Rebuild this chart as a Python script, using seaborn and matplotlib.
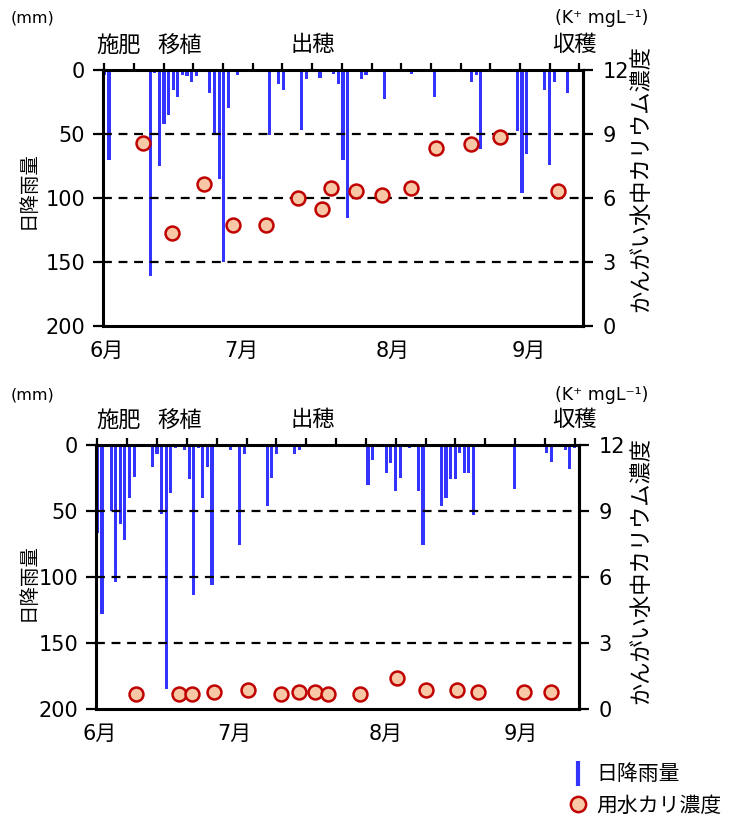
import numpy as np
import matplotlib
matplotlib.use("Agg")
import matplotlib.pyplot as plt
import seaborn as sns
from matplotlib.lines import Line2D

# ---------------- data (day 0 = June 1) ----------------
month_labels = ["6月", "7月", "8月", "9月"]
event_labels = ["施肥", "移植", "出穂", "収穫"]

# upper panel: daily rainfall (mm)
rain1_day = [0, 1, 10, 11, 12, 13, 14, 15, 16, 17, 18, 19, 20, 23, 24, 25, 26, 27, 29,
             36, 38, 39, 43, 44, 47, 50, 51, 52, 53, 56, 57, 61, 67, 72, 80, 81, 82,
             90, 91, 92, 96, 97, 98, 101]
rain1_mm = [4, 70, 161, 2, 75, 42, 35, 16, 21, 4, 5, 9, 5, 18, 51, 85, 150, 30, 4,
            51, 11, 16, 47, 7, 6, 3, 11, 70, 116, 7, 4, 23, 3, 21, 9, 4, 62,
            48, 96, 66, 16, 74, 9, 18]
# upper panel: K+ concentration of irrigation water (mg/L)
k1_day = [8.5, 14.8, 21.7, 28.0, 35.3, 42.1, 47.5, 49.4, 54.8, 60.6, 66.9, 72.2, 80.0, 86.3, 98.9]
k1_val = [8.6, 4.35, 6.65, 4.75, 4.75, 6.0, 5.5, 6.45, 6.35, 6.15, 6.45, 8.35, 8.55, 8.85, 6.35]

# lower panel
rain2_day = [0, 1, 3, 4, 5, 6, 7, 8, 12, 13, 14, 15, 16, 17, 19, 20, 21, 22, 23, 24, 25,
             29, 31, 32, 37, 38, 39, 43, 44, 59, 60, 63, 64, 65, 66, 68, 70, 71, 75, 76,
             77, 78, 79, 80, 81, 82, 91, 98, 99, 102, 103, 104]
rain2_mm = [67, 128, 50, 104, 60, 72, 40, 24, 17, 7, 52, 185, 36, 2, 4, 26, 114, 2, 40, 17, 106,
            4, 76, 7, 46, 25, 7, 7, 4, 30, 11, 21, 14, 35, 25, 2, 35, 76, 46, 40,
            26, 26, 6, 21, 21, 53, 33, 6, 13, 4, 18, 2]
k2_day = [8.5, 17.8, 20.7, 25.5, 32.8, 40.1, 44.0, 47.4, 50.2, 57.2, 65.4, 71.7, 78.4, 82.9, 93.1, 98.9]
k2_val = [0.67, 0.67, 0.67, 0.79, 0.88, 0.67, 0.79, 0.79, 0.67, 0.67, 1.4, 0.88, 0.88, 0.78, 0.78, 0.78]

# ---------------- style ----------------
BLUE = "#3434FF"
PEACH = "#F7C7A6"
RED = "#C00000"
W, H = 739, 819

sns.set_theme(style="white")
plt.rcParams['font.family'] = ['DejaVu Sans', 'Noto Sans CJK JP']
plt.rcParams['text.color'] = 'black'

fig = plt.figure(figsize=(W / 100, H / 100), dpi=100)


def px_rect(l, t, r, b):
    return [l / W, 1 - b / H, (r - l) / W, (b - t) / H]


def panel(rect, rday, rmm, kday, kval, xmax, month_pos, top_ticks):
    ax = fig.add_axes(rect)
    sns.barplot(x=rday, y=rmm, native_scale=True, width=0.68, color=BLUE,
                saturation=1, errorbar=None, ax=ax, zorder=2, linewidth=0)
    for v in (50, 100, 150):
        ax.axhline(v, color="black", ls=(0, (4, 3)), lw=1.6, zorder=3)
    ax2 = ax.twinx()
    sns.scatterplot(x=kday, y=kval, ax=ax2, s=100, color=PEACH, edgecolor=RED,
                    linewidth=1.8, zorder=4)
    ax.set_ylim(200, 0)
    ax2.set_ylim(0, 12)
    ax.set_xlim(-0.3, xmax)
    ax.set_xlabel("")
    ax.set_ylabel("")
    ax2.set_ylabel("")

    ax.set_yticks([0, 50, 100, 150, 200])
    ax2.set_yticks([0, 3, 6, 9, 12])
    ax.tick_params(axis="y", direction="out", length=7, width=1.6, labelsize=15,
                   left=True, pad=6, colors="black")
    ax2.tick_params(axis="y", direction="out", length=7, width=1.6, labelsize=15,
                    right=True, pad=7, colors="black")
    ax.set_xticks(month_pos)
    ax.set_xticklabels(month_labels)
    ax.tick_params(axis="x", which="major", length=0, labelsize=15, pad=11,
                   bottom=True, top=False, colors="black")
    ax.set_xticks(top_ticks, minor=True)
    ax.tick_params(axis="x", which="minor", top=True, bottom=False, direction="out",
                   length=5, width=1.6, color="black")
    for s in ax.spines.values():
        s.set_visible(True)
        s.set_color("black")
        s.set_linewidth(2.2)
    for name, s in ax2.spines.items():
        s.set_visible(name == "right")
        s.set_color("black")
        s.set_linewidth(2.2)
    return ax, ax2


month_pos = [0.4, 29.8, 62.9, 92.4]
panel(px_rect(103, 70, 583, 326), rain1_day, rain1_mm, k1_day, k1_val, 104.3,
      month_pos, np.linspace(0, 103.5, 17))
panel(px_rect(96, 445, 579, 709), rain2_day, rain2_mm, k2_day, k2_val, 105.0,
      month_pos, np.linspace(0, 104.1, 17))


def ftext(x, y, s, **kw):
    fig.text(x / W, 1 - y / H, s, ha="center", va="center", color="black", **kw)


event_x = [119, 180, 313, 574]
for ytop, ymm in ((45, 18), (420, 395)):
    for ex, lab in zip(event_x, event_labels):
        ftext(ex, ytop, lab, fontsize=16)
    ftext(32, ymm, "(mm)", fontsize=11.5)
    ftext(602, ymm, "(K⁺ mgL⁻¹)", fontsize=12.5)

ftext(28, 190, "日降雨量", fontsize=14, rotation=90)
ftext(28, 582, "日降雨量", fontsize=14, rotation=90)
ftext(641, 178, "かんがい水中カリウム濃度", fontsize=16, rotation=90)
ftext(641, 571, "かんがい水中カリウム濃度", fontsize=16, rotation=90)

handles = [Line2D([], [], color=BLUE, marker="|", ls="None", markersize=18, markeredgewidth=3),
           Line2D([], [], marker="o", ls="None", markersize=11, markerfacecolor=PEACH,
                  markeredgecolor=RED, markeredgewidth=1.8)]
fig.legend(handles, ["日降雨量", "用水カリ濃度"], loc="center left",
           bbox_to_anchor=(555 / W, 1 - 790 / H), frameon=False, fontsize=15,
           labelspacing=0.55, handletextpad=0.3, handlelength=1.2, borderpad=0,
           labelcolor="black")

fig.savefig("out.png", dpi=100)
